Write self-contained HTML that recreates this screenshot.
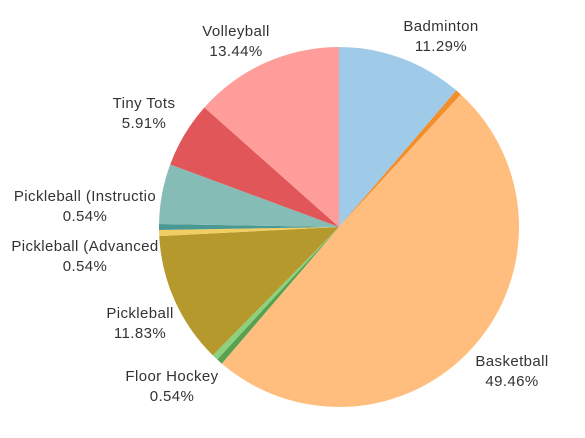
<!DOCTYPE html>
<html><head><meta charset="utf-8"><style>
body{margin:0;background:#fff;}
svg text{font-family:"Liberation Sans",Arial,sans-serif;font-size:15px;letter-spacing:0.4px;fill:#333;}
</style></head><body>
<svg id="chart" width="585" height="433" xmlns="http://www.w3.org/2000/svg">
<g id="slices"></g>
<g id="labels"></g>
</svg>
<script>
const categories=["Badminton","Other Orange","Basketball","Other Green","Floor Hockey","Pickleball","Pickleball (Advanced","Pickleball (Instructio","Other Teal","Tiny Tots","Volleyball"];
const values=[21,1,92,1,1,22,1,1,10,11,25];
const percentLabels=["11.29%","","49.46%","","0.54%","11.83%","0.54%","0.54%","","5.91%","13.44%"];
const colors=["#a0cbe8","#f28e2b","#ffbe7d","#59a14f","#8cd17d","#b6992d","#f1ce63","#499894","#86bcb6","#e15759","#ff9d9a"];
const labelPos={"Badminton":[441,31],"Basketball":[512,366],"Floor Hockey":[172,381],"Pickleball":[140,318],"Pickleball (Advanced":[85,251],"Pickleball (Instructio":[85,201],"Tiny Tots":[144,108],"Volleyball":[236,36]};
const cx=339,cy=227,r=180;
const total=values.reduce((a,b)=>a+b,0);
const ns="http://www.w3.org/2000/svg";
const gS=document.getElementById('slices'),gL=document.getElementById('labels');
function pt(a){return [cx+r*Math.sin(a),cy-r*Math.cos(a)];}
let acc=0;
values.forEach((v,i)=>{
  const a0=acc/total*2*Math.PI;acc+=v;const a1=acc/total*2*Math.PI;
  const p0=pt(a0),p1=pt(a1);const large=(a1-a0)>Math.PI?1:0;
  const p=document.createElementNS(ns,'path');
  p.setAttribute('d',`M${cx},${cy}L${p0[0]},${p0[1]}A${r},${r} 0 ${large} 1 ${p1[0]},${p1[1]}Z`);
  p.setAttribute('fill',colors[i]);
  
  
  gS.appendChild(p);
  const lp=labelPos[categories[i]];
  if(lp){
    [categories[i],percentLabels[i]].forEach((t,k)=>{
      const tx=document.createElementNS(ns,'text');
      tx.setAttribute('x',lp[0]);tx.setAttribute('y',lp[1]+k*20);
      tx.setAttribute('text-anchor','middle');
      tx.textContent=t;
      
      
      gL.appendChild(tx);
    });
  }
});
</script>
</body></html>
